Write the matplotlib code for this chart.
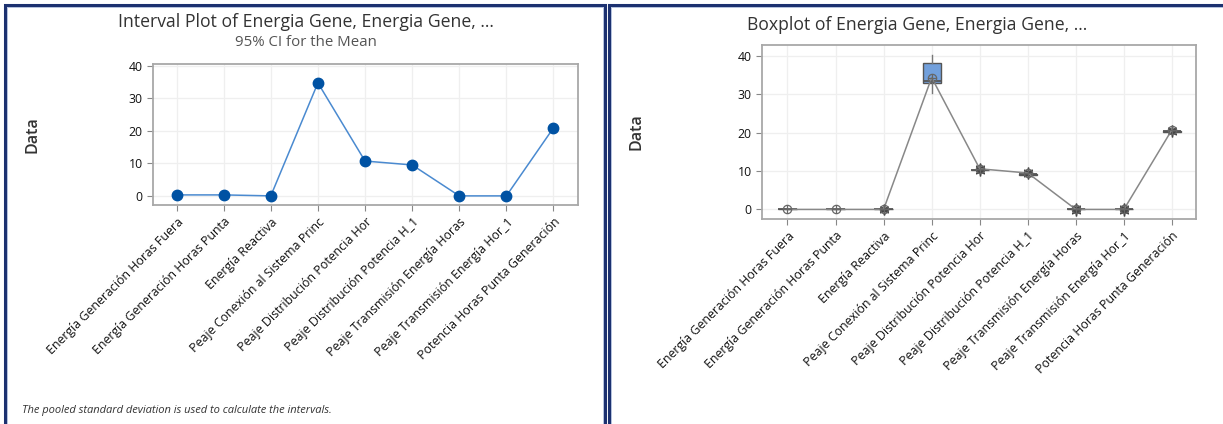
import matplotlib
matplotlib.use("Agg")
import matplotlib.pyplot as plt
from matplotlib.patches import Rectangle

plt.rcParams['font.family'] = ['Open Sans', 'DejaVu Sans']

categories = ["Energía Generación Horas Fuera", "Energía Generación Horas Punta",
              "Energía Reactiva", "Peaje Conexión al Sistema Princ",
              "Peaje Distribución Potencia Hor", "Peaje Distribución Potencia H_1",
              "Peaje Transmisión Energía Horas", "Peaje Transmisión Energía Hor_1",
              "Potencia Horas Punta Generación"]

# Interval plot means
interval_means = [0.3, 0.3, 0.0, 34.7, 10.7, 9.5, 0.0, 0.0, 20.9]

# Boxplot statistics
box_whislo = [0.0, 0.0, 0.0, 30.3, 10.1, 9.0, 0.0, 0.0, 20.3]
box_q1 = [0.0, 0.0, 0.0, 32.9, 10.2, 9.1, 0.0, 0.0, 20.3]
box_med = [0.0, 0.0, 0.0, 33.4, 10.3, 9.2, 0.0, 0.0, 20.4]
box_q3 = [0.0, 0.0, 0.0, 38.1, 10.3, 9.2, 0.0, 0.0, 20.4]
box_whishi = [0.0, 0.0, 0.0, 40.3, 10.4, 9.3, 0.0, 0.0, 20.5]
box_means = [0.0, 0.0, 0.0, 34.4, 10.6, 9.5, 0.0, 0.0, 20.8]
box_fliers = [[], [], [-0.2, 0.2], [], [10.0, 10.6, 10.9], [9.3, 9.7],
              [-0.3, 0.0, 0.3], [-0.3, 0.0, 0.3], [20.2, 20.6]]

yticks = [0, 10, 20, 30, 40]

W, H = 1223, 424
fig = plt.figure(figsize=(W / 100, H / 100), dpi=100)

def fx(px):
    return px / W

def fy(py):
    return 1 - py / H

# Panel borders
navy = "#1c3170"
for (x0, x1) in [(5, 605), (609, 1240)]:
    r = Rectangle((fx(x0), fy(440)), fx(x1 - x0), (440 - 5) / H,
                  transform=fig.transFigure, fill=False, edgecolor=navy,
                  linewidth=2.2, zorder=0)
    fig.add_artist(r)
    r2 = Rectangle((fx(x0 + 2), fy(440)), fx(x1 - x0 - 4), (440 - 7) / H,
                   transform=fig.transFigure, fill=False, edgecolor="#a9b8d8",
                   linewidth=0.6, zorder=0)
    fig.add_artist(r2)

def style_axes(ax):
    for s in ax.spines.values():
        s.set_color("#a8a8a8")
        s.set_linewidth(1.3)
    ax.grid(True, color="#efefef", linewidth=0.9)
    ax.set_axisbelow(True)
    ax.tick_params(axis='both', colors="#888888", length=4, width=0.8,
                   labelcolor="#111111", labelsize=8.8)
    ax.set_yticks(yticks)
    ax.set_xticks(range(len(categories)))
    ax.set_xticklabels(categories, rotation=45, ha='right',
                       rotation_mode='anchor', fontsize=8.9)

# Left: interval plot
ax1 = fig.add_axes([fx(153), fy(205), fx(578 - 153), (205 - 64) / H])
xs = list(range(len(categories)))
ax1.plot(xs, interval_means, color="#4a8ad0", linewidth=1.1, zorder=2)
ax1.plot(xs, interval_means, 'o', color="#0052a3", markersize=7.5, zorder=3)
ax1.set_xlim(-0.5, 8.52)
ax1.set_ylim(-2.8, 40.5)
style_axes(ax1)
ax1.set_ylabel("Data", fontsize=11.5, color="#333333", labelpad=0,
               fontweight='semibold')
ax1.yaxis.set_label_coords(fx(41 - 153) / fx(578 - 153), 0.5)

fig.text(fx(306), fy(22), "Interval Plot of Energia Gene, Energia Gene, ...",
         ha='center', va='center', fontsize=12.7, color="#333333")
fig.text(fx(306), fy(42), "95% CI for the Mean", ha='center', va='center',
         fontsize=10.8, color="#555555")
fig.text(fx(22), fy(410), "The pooled standard deviation is used to calculate the intervals.",
         ha='left', va='center', fontsize=8, style='italic', color="#333333")

# Right: boxplot
ax2 = fig.add_axes([fx(762), fy(219), fx(1196 - 762), (219 - 45) / H])
stats = []
for i in range(len(categories)):
    stats.append(dict(whislo=box_whislo[i], q1=box_q1[i], med=box_med[i],
                      q3=box_q3[i], whishi=box_whishi[i], mean=box_means[i],
                      fliers=box_fliers[i], label=categories[i]))
ax2.bxp(stats, positions=xs, widths=0.38, patch_artist=True, showcaps=False,
        showmeans=False, showfliers=True,
        boxprops=dict(facecolor="#72a0dc", edgecolor="#555555", linewidth=1.0),
        medianprops=dict(color="#555555", linewidth=1.3),
        whiskerprops=dict(color="#777777", linewidth=1.0),
        flierprops=dict(marker=(6, 2, 0), markersize=7, markeredgecolor="#444444",
                        markeredgewidth=1.0, linestyle='none'))
ax2.plot(xs, box_means, color="#888888", linewidth=1.1, zorder=3)
ax2.plot(xs, box_means, 'o', markersize=6, markerfacecolor='none',
         markeredgecolor="#666666", markeredgewidth=0.9, zorder=4)
ax2.plot(xs, box_means, '+', markersize=6, color="#666666",
         markeredgewidth=0.9, zorder=4)
ax2.set_xlim(-0.53, 8.5)
ax2.set_ylim(-2.5, 42.9)
style_axes(ax2)
ax2.set_ylabel("Data", fontsize=11.5, color="#333333", labelpad=0,
               fontweight='semibold')
ax2.yaxis.set_label_coords(fx(645 - 762) / fx(1196 - 762), 0.5)

fig.text(fx(917), fy(25), "Boxplot of Energia Gene, Energia Gene, ...",
         ha='center', va='center', fontsize=12.7, color="#333333")

fig.savefig("out.png", dpi=100)
